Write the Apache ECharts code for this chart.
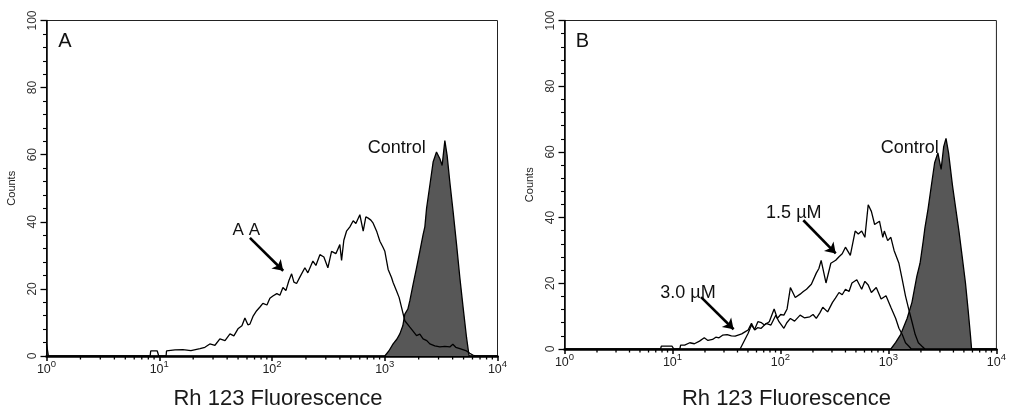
<!DOCTYPE html>
<html><head><meta charset="utf-8">
<script src="https://cdn.jsdelivr.net/npm/echarts@6/dist/echarts.min.js"></script>
<style>html,body{margin:0;padding:0;background:#fff}#c{width:1009px;height:415px}</style>
</head><body><div id="c"></div>
<script>
// ---- Data ----
const yTicks = [0, 20, 40, 60, 80, 100];
const xDecades = [1, 10, 100, 1000, 10000];
const xMinorTicks = [2,3,4,5,6,7,8,9,20,30,40,50,60,70,80,90,200,300,400,500,600,700,800,900,2000,3000,4000,5000,6000,7000,8000,9000];

// Panel A
const aaX = [1, 1.04, 8.3, 8.4, 9.6, 9.9, 11.5, 11.6, 13.8, 16.2, 19.1, 23.0, 25.4, 28.1, 31.2, 34.5, 38.3, 42.4, 45.9, 49.9, 54.1, 57.5, 61.1, 63.7, 67.8, 73.1, 78.2, 83.0, 90.2, 95.8, 101.8, 110.4, 117.5, 125.0, 132.8, 141.3, 149.3, 156.4, 165.2, 176.6, 195.7, 208.0, 230.6, 245, 266, 288.5, 313, 337.6, 368.4, 399.6, 414, 433.6, 458, 490.6, 525, 554.6, 601.4, 644, 679.6, 712.8, 753, 789, 851, 905.7, 962, 1002, 1072, 1148, 1186, 1273, 1342, 1409, 1507, 1670, 1775, 1914, 2047, 2188, 2360, 2512, 2780, 3080, 3412, 3776, 4017, 4266, 4634, 5309, 5680, 6040, 6427, 10000];
const aaY = [3.6, 0, 0, 1.5, 1.5, 0, 0, 1.5, 1.8, 1.9, 1.6, 2.2, 2.6, 3.6, 3.2, 5.1, 4.6, 6.6, 6.0, 8.1, 9.0, 11.3, 9.3, 9.5, 11.8, 13.5, 14.6, 15.7, 15.2, 17.2, 17.9, 18.6, 18.1, 20.4, 19.5, 22.5, 24.5, 22.0, 21.6, 23.5, 26.3, 24.8, 28.3, 27.0, 30.2, 29.5, 26.3, 31.2, 30.5, 33.2, 28.5, 34.5, 37.2, 38.5, 40.3, 39.5, 42.1, 37.2, 41.5, 41.1, 40.5, 39.6, 37.0, 34.2, 32.5, 31.2, 25.8, 23.4, 21.9, 19.4, 17.4, 14.5, 10.5, 8.6, 7.5, 6.1, 6.5, 5.1, 4.6, 3.6, 3.0, 2.7, 2.9, 2.7, 3.5, 2.6, 2.2, 1.5, 0.8, 0.3, 0, 0];
const ctrlAX = [1002, 1087, 1186, 1279, 1361, 1446, 1507, 1603, 1670, 1786, 1914, 2047, 2188, 2268, 2349, 2512, 2685, 2877, 3083, 3229, 3412, 3573, 3776, 4037, 4335, 4634, 4954, 5309, 5598];
const ctrlAY = [0, 1.5, 3.6, 5.0, 6.6, 9.0, 12.5, 14.0, 16.5, 21.4, 26.3, 31.2, 36.2, 38.5, 44.0, 50.9, 57.8, 60.8, 58.8, 56.8, 64.2, 59.8, 51.9, 43.1, 33.2, 23.4, 14.5, 5.6, 0];

// Panel B
const m30X = [1, 7.76, 7.88, 9.89, 10.3, 11.69, 11.9, 12.97, 14.46, 15.95, 17.8, 19.7, 21.3, 23.5, 25.2, 26.97, 29.1, 32.1, 35.1, 38.1, 43.8, 46.9, 50.2, 53.9, 57.7, 61.4, 66.3, 73.6, 81.6, 90.5, 96.9, 107.6, 114.5, 123.6, 135.1, 152.1, 166.3, 187.1, 200.4, 214.7, 231.7, 246.6, 273.5, 303.5, 322.9, 348.6, 373.3, 399.9, 431.5, 459.3, 509.5, 565.2, 605.4, 649.6, 695.2, 771.4, 855.9, 949.7, 1053, 1168, 1251, 1343, 1438, 1539, 1629, 10000];
const m30Y = [0, 0, 0.9, 0.9, 0, 0, 1.2, 1.2, 1.9, 1.6, 2.4, 3.4, 2.6, 2.9, 3.6, 3.4, 4.2, 4.4, 4.0, 3.9, 4.6, 5.2, 5.8, 7.8, 5.8, 6.5, 6.3, 7.8, 7.3, 10.3, 8.3, 6.3, 8.0, 9.3, 8.5, 10.3, 9.5, 9.8, 10.5, 9.3, 11.0, 12.7, 11.3, 14.2, 15.5, 17.2, 16.5, 18.2, 17.5, 20.1, 21.1, 18.2, 20.6, 19.5, 17.2, 18.7, 15.2, 16.2, 12.7, 9.3, 6.3, 4.4, 1.9, 0.9, 0, 0];
const m15X = [42.3, 46.9, 50.2, 53.9, 57.7, 61.8, 66.7, 71.0, 78.8, 87.4, 93.6, 100.5, 107.6, 115.2, 123.6, 137.1, 152.1, 162.8, 174.3, 193.3, 214.7, 227, 238.2, 264.1, 292.9, 325, 348.6, 373.3, 399.9, 443.6, 492, 526, 565.2, 605.4, 649.6, 695.2, 745, 826, 887.2, 916.2, 984, 1053, 1128, 1251, 1343, 1438, 1539, 1652, 1770, 1893, 2033, 2178];
const m15Y = [0, 2.9, 4.8, 7.3, 6.0, 8.3, 8.0, 7.3, 8.3, 12.2, 9.3, 10.5, 10.3, 12.2, 18.7, 15.7, 16.7, 17.5, 18.2, 19.7, 23.1, 24.5, 27.0, 20.1, 26.1, 27.0, 28.1, 29.0, 31.0, 28.5, 35.9, 35.0, 35.9, 34.0, 43.9, 41.9, 37.9, 38.9, 34.0, 35.9, 33.0, 34.0, 30.0, 26.1, 21.1, 16.2, 12.2, 8.3, 4.4, 1.9, 0.9, 0];
const ctrlBX = [1053, 1168, 1297, 1489, 1652, 1832, 1963, 2103, 2178, 2333, 2500, 2679, 2871, 3076, 3250, 3414, 3604, 3917, 4198, 4498, 4820, 5170, 5458, 5741, 5890];
const ctrlBY = [0, 2.0, 4.4, 9.3, 14.2, 22.1, 26.1, 33.0, 36.9, 42.8, 49.8, 56.7, 59.7, 54.7, 61.6, 64.1, 59.7, 49.8, 42.8, 35.9, 28.1, 20.1, 12.2, 4.4, 0];

// Annotation arrows (data coordinates: [fluorescence, counts])
const arrowAA = [[63.7, 35.2], [125.7, 25.4]];
const arrow15 = [[162.9, 39.2], [325, 29.1]];
const arrow30 = [[18.4, 15.8], [36.8, 6.0]];

const FONT = "'Liberation Sans', Arial, sans-serif";
const pairs = (xs, ys) => xs.map((x, i) => [x, ys[i]]);

const chart = echarts.init(document.getElementById('c'), null, {renderer: 'canvas'});

function xAxisFor(i) {
  return {
    type: 'log', logBase: 10, gridIndex: i, min: xDecades[0], max: xDecades[xDecades.length - 1],
    axisLine: {show: true, lineStyle: {color: '#000', width: 2.5}},
    axisTick: {show: true, length: 5, lineStyle: {color: '#000', width: 1.5}},
    splitLine: {show: false},
    axisLabel: {
      margin: 3, color: '#222',
      formatter: v => '{b|10}{s|' + Math.round(Math.log10(v)) + '}',
      rich: {
        b: {fontSize: 12.5, fontFamily: FONT, color: '#222', lineHeight: 17, verticalAlign: 'bottom'},
        s: {fontSize: 9.5, fontFamily: FONT, color: '#222', lineHeight: 17, verticalAlign: 'top'}
      }
    },
    name: 'Rh 123 Fluorescence', nameLocation: 'middle', nameGap: i ? 39 : 32,
    nameTextStyle: {fontSize: 22, fontFamily: FONT, color: '#1a1a1a', padding: [0, 0, 0, 12]}
  };
}
function yAxisFor(i) {
  return {
    type: 'value', gridIndex: i, min: yTicks[0], max: yTicks[yTicks.length - 1], interval: 20,
    axisLine: {show: true, lineStyle: {color: '#000', width: 1.5}},
    axisTick: {show: true, length: 6, lineStyle: {color: '#000', width: 1.3}},
    minorTick: {show: true, splitNumber: 5, length: 3.5, lineStyle: {color: '#000', width: 1.1}},
    splitLine: {show: false},
    axisLabel: {rotate: 90, fontSize: 12, fontFamily: FONT, color: '#333', margin: 8},
    name: 'Counts', nameLocation: 'middle', nameRotate: 90, nameGap: 29,
    nameTextStyle: {fontSize: 11, fontFamily: FONT, color: '#222'}
  };
}
function minorTickSeries(i) {
  return {
    type: 'custom', xAxisIndex: i, yAxisIndex: i, silent: true, clip: false, z: 5,
    data: xMinorTicks.map(v => [v, 0]),
    renderItem: (params, api) => {
      const p = api.coord([api.value(0), 0]);
      return {type: 'line', shape: {x1: p[0], y1: p[1], x2: p[0], y2: p[1] + 3.5},
              style: {stroke: '#000', lineWidth: 1.3}};
    }
  };
}
function arrowMark(list) {
  return {
    silent: true, symbol: ['none', 'arrow'], symbolSize: 10,
    label: {show: false},
    lineStyle: {type: 'solid', color: '#000', width: 2.6},
    data: list.map(a => [{coord: a[0]}, {coord: a[1]}])
  };
}
const lineBase = {type: 'line', showSymbol: false, symbol: 'none', smooth: false, silent: true,
                  lineStyle: {color: '#000', width: 1.3}, itemStyle: {color: '#000'}};

const txt = (text, x, y, size) => ({
  type: 'text', x: x, y: y, z: 50, silent: true,
  style: {text: text, fill: '#111', font: size + 'px ' + FONT, textAlign: 'center', textVerticalAlign: 'middle'}
});

chart.setOption({
  animation: false,
  backgroundColor: '#fff',
  textStyle: {fontFamily: FONT},
  grid: [
    {left: 46.5, top: 20.5, width: 451, height: 338, show: true, borderColor: '#222', borderWidth: 1},
    {left: 564.5, top: 20.5, width: 444, height: 338, show: true, borderColor: '#222', borderWidth: 1}
  ],
  xAxis: [xAxisFor(0), xAxisFor(1)],
  yAxis: [yAxisFor(0), yAxisFor(1)],
  series: [
    Object.assign({}, lineBase, {name: 'Control A', xAxisIndex: 0, yAxisIndex: 0, data: pairs(ctrlAX, ctrlAY),
      lineStyle: {color: '#000', width: 1.3}, areaStyle: {color: '#575757', opacity: 1}}),
    Object.assign({}, lineBase, {name: 'AA', xAxisIndex: 0, yAxisIndex: 0, data: pairs(aaX, aaY),
      markLine: arrowMark([arrowAA])}),
    Object.assign({}, lineBase, {name: 'Control B', xAxisIndex: 1, yAxisIndex: 1, data: pairs(ctrlBX, ctrlBY),
      lineStyle: {color: '#000', width: 1.3}, areaStyle: {color: '#575757', opacity: 1}}),
    Object.assign({}, lineBase, {name: '3.0 µM', xAxisIndex: 1, yAxisIndex: 1, data: pairs(m30X, m30Y),
      markLine: arrowMark([arrow30])}),
    Object.assign({}, lineBase, {name: '1.5 µM', xAxisIndex: 1, yAxisIndex: 1, data: pairs(m15X, m15Y),
      markLine: arrowMark([arrow15])}),
    minorTickSeries(0),
    minorTickSeries(1)
  ],
  graphic: [
    txt('A', 65, 41, 20),
    txt('B', 582.5, 41, 20),
    txt('Control', 396.7, 148.5, 18),
    txt('Control', 909.7, 148.5, 18),
    txt('A A', 246.3, 230, 17),
    txt('1.5 µM', 793.8, 213.5, 18),
    txt('3.0 µM', 688, 293.5, 18)
  ]
});
</script></body></html>
